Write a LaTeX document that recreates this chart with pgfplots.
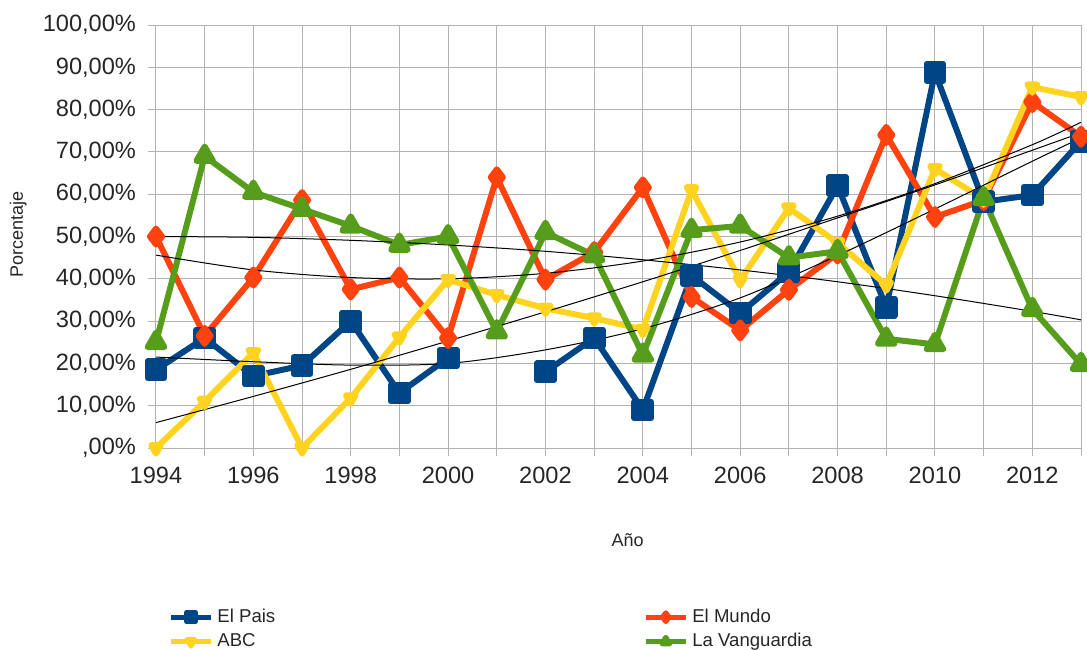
\documentclass[border=0pt]{standalone}
\usepackage{fontspec}
\setmainfont{Liberation Sans}
\usepackage{pgfplots}
\pgfplotsset{compat=1.18}
\usepackage{pgfplotstable}

\definecolor{elpais}{HTML}{004586}
\definecolor{elmundo}{HTML}{FF420E}
\definecolor{abc}{HTML}{FFD320}
\definecolor{vanguardia}{HTML}{579D1C}
\definecolor{rejilla}{HTML}{B3B3B3}

% porcentaje por año
\pgfplotstableread{
year pais mundo abc vang
1994 18.5 50.0 0.0  25.0
1995 26.0 26.5 11.0 69.0
1996 17.0 40.3 22.5 60.5
1997 19.5 58.6 0.0  56.5
1998 30.0 37.5 11.8 52.5
1999 13.0 40.3 26.2 48.0
2000 21.3 26.0 39.8 50.0
2001 nan  64.0 36.2 27.5
2002 18.0 39.8 33.0 51.0
2003 26.0 46.3 30.7 45.5
2004 9.0  61.6 28.0 22.0
2005 40.8 35.7 61.0 51.5
2006 31.9 27.8 39.7 52.5
2007 41.6 37.4 56.7 45.0
2008 62.0 46.0 48.5 46.5
2009 33.3 74.0 38.5 25.8
2010 88.8 54.6 66.0 24.5
2011 58.2 58.6 58.8 59.0
2012 59.8 81.8 85.3 32.8
2013 72.5 73.6 83.0 19.8
}\prensa

% lineas de tendencia
\pgfplotstableread{
year pais mundo abc vang
1994 21.5 45.6 6.0  50.0
1996 20.4 42.1 12.2 49.8
1998 19.6 40.3 18.6 49.1
2000 20.0 40.0 25.3 48.0
2002 23.2 41.3 32.2 46.5
2004 28.2 44.2 39.3 44.5
2006 35.5 48.7 46.7 42.1
2008 45.5 54.8 54.4 39.3
2010 56.5 62.5 62.2 36.0
2012 67.8 71.7 70.4 32.3
2013 73.3 77.0 74.5 30.3
}\tendencias

\begin{document}
\begin{tikzpicture}
\begin{axis}[
  name=ax,
  scale only axis,
  width=462.5pt, height=211.5pt,
  xmin=1994, xmax=2013, ymin=0, ymax=100,
  xtick={1994,1996,...,2012},
  minor xtick={1995,1997,...,2013},
  ytick={0,10,...,100},
  yticklabels={{,00\%},{10,00\%},{20,00\%},{30,00\%},{40,00\%},{50,00\%},{60,00\%},{70,00\%},{80,00\%},{90,00\%},{100,00\%}},
  grid=both,
  major grid style={draw=rejilla, line width=0.5pt},
  minor grid style={draw=rejilla, line width=0.5pt},
  axis line style={draw=none},
  tick align=outside, tick pos=left,
  major tick length=4pt, minor tick length=4pt,
  every tick/.style={rejilla, line width=0.5pt},
  every minor tick/.style={rejilla, line width=0.5pt},
  tick label style={font=\fontsize{11.8}{13}\selectfont, text=black!85},
  xticklabel style={yshift=-2pt},
  yticklabel style={xshift=-2.5pt},
  /pgf/number format/assume math mode=true,
  /pgf/number format/1000 sep={},
  xlabel={Año}, ylabel={Porcentaje},
  label style={font=\fontsize{9}{11}\selectfont, text=black!85},
  xlabel style={at={(axis description cs:0.51,-0.2175)}, anchor=center},
  ylabel style={at={(axis description cs:-0.149,0.504)}, anchor=center},
  unbounded coords=jump,
  line join=round,
  legend columns=2,
  legend cell align=left,
  legend style={at={(axis description cs:0.013,-0.37)}, anchor=north west,
    draw=none, fill=none, inner sep=0pt, row sep=0pt,
    font=\fontsize{9.3}{11}\selectfont, text=black!85,
    /tikz/every even column/.append style={column sep=182pt}},
  legend image code/.code={
    \draw[#1, line width=2.5pt, mark size=2.2pt, mark repeat=2, mark phase=2]
      plot coordinates {(0pt,0pt) (10pt,0pt) (20pt,0pt)};},
]
\addplot[elpais, line width=3pt, mark=square*, mark size=4.2pt, mark options={solid, fill=elpais}]
  table[x=year, y=pais]{\prensa};
\addlegendentry{El Pais}
\addplot[elmundo, line width=3pt, mark=diamond*, mark size=4pt, mark options={solid, fill=elmundo}]
  table[x=year, y=mundo]{\prensa};
\addlegendentry{El Mundo}
\addplot[abc, line width=3pt, mark=triangle*, mark size=2.8pt, mark options={solid, fill=abc, rotate=180}]
  table[x=year, y=abc]{\prensa};
\addlegendentry{ABC}
\addplot[vanguardia, line width=3pt, mark=triangle*, mark size=4.8pt, mark options={solid, fill=vanguardia}]
  table[x=year, y=vang]{\prensa};
\addlegendentry{La Vanguardia}

\addplot[black, line width=0.5pt, smooth, forget plot] table[x=year, y=pais]{\tendencias};
\addplot[black, line width=0.5pt, smooth, forget plot] table[x=year, y=mundo]{\tendencias};
\addplot[black, line width=0.5pt, smooth, forget plot] table[x=year, y=abc]{\tendencias};
\addplot[black, line width=0.5pt, smooth, forget plot] table[x=year, y=vang]{\tendencias};
\end{axis}
\pgfresetboundingbox
\path[use as bounding box] ([shift={(-78pt,-100.5pt)}]ax.south west) rectangle ([shift={(465.5pt,224pt)}]ax.south west);
\end{tikzpicture}
\end{document}
